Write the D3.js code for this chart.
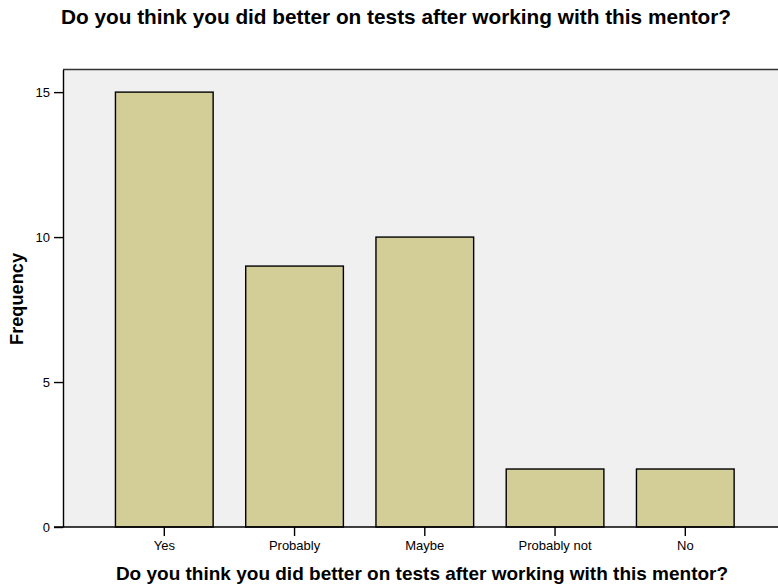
<!DOCTYPE html>
<html><head><meta charset="utf-8">
<script src="https://cdn.jsdelivr.net/npm/d3@7"></script>
<style>body{margin:0;background:#fff}svg{display:block}text{font-family:Arial,"Liberation Sans",sans-serif}</style>
</head><body>
<svg id="c" width="778" height="585"></svg>
<script>
const categories = ["Yes", "Probably", "Maybe", "Probably not", "No"];
const frequencies = [15, 9, 10, 2, 2];
const yTicks = [0, 5, 10, 15];
const titleText = "Do you think you did better on tests after working with this mentor?";
const xTitle = "Do you think you did better on tests after working with this mentor?";
const yTitle = "Frequency";

const W = 778, H = 585;
const m = {left: 63, top: 69.5, right: 786.6, bottom: 527};
const svg = d3.select("#c");

const x = d3.scaleBand().domain(categories).range([m.left, m.right])
  .paddingInner(0.25).paddingOuter(0.4027);
const y = d3.scaleLinear().domain([0, 15.78]).range([m.bottom, m.top]);

svg.append("rect").attr("x", m.left).attr("y", m.top)
  .attr("width", m.right - m.left).attr("height", m.bottom - m.top)
  .attr("fill", "#f0f0f0");
svg.append("line").attr("x1", m.left).attr("x2", W).attr("y1", m.top).attr("y2", m.top)
  .attr("stroke", "#333").attr("stroke-width", 1.5);

svg.selectAll("rect.bar").data(categories).enter().append("rect")
  .attr("class", "bar")
  .attr("x", d => x(d)).attr("width", x.bandwidth())
  .attr("y", (d, i) => y(frequencies[i]))
  .attr("height", (d, i) => y(0) - y(frequencies[i]))
  .attr("fill", "#d3ce97").attr("stroke", "#000").attr("stroke-width", 1.4);

const yAxis = svg.append("g").attr("transform", `translate(${m.left},0)`)
  .call(d3.axisLeft(y).tickValues(yTicks).tickSize(9).tickPadding(4).tickSizeOuter(0));
yAxis.select(".domain").attr("stroke", "#000").attr("stroke-width", 1.4);
yAxis.selectAll(".tick line").attr("stroke", "#000").attr("stroke-width", 1.4);
yAxis.selectAll("text").attr("font-size", 13).attr("fill", "#000")
  .attr("font-family", "Arial, 'Liberation Sans', sans-serif");

const xAxis = svg.append("g").attr("transform", `translate(0,${m.bottom})`)
  .call(d3.axisBottom(x).tickSize(9).tickPadding(5).tickSizeOuter(0));
xAxis.select(".domain").remove();
svg.append("line").attr("x1", m.left - 9).attr("x2", W).attr("y1", m.bottom).attr("y2", m.bottom)
  .attr("stroke", "#000").attr("stroke-width", 1.4);
xAxis.selectAll(".tick line").attr("stroke", "#000").attr("stroke-width", 1.4);
xAxis.selectAll("text").attr("font-size", 13).attr("fill", "#000")
  .attr("font-family", "Arial, 'Liberation Sans', sans-serif");

svg.append("text").attr("x", 396).attr("y", 23.5).attr("text-anchor", "middle")
  .attr("font-size", 20.8).attr("font-weight", "bold").text(titleText);
svg.append("text").attr("x", 422).attr("y", 580).attr("text-anchor", "middle")
  .attr("font-size", 19).attr("font-weight", "bold").text(xTitle);
svg.append("text").attr("transform", `translate(23,299) rotate(-90)`).attr("text-anchor", "middle")
  .attr("font-size", 18.2).attr("font-weight", "bold").text(yTitle);
</script>
</body></html>
